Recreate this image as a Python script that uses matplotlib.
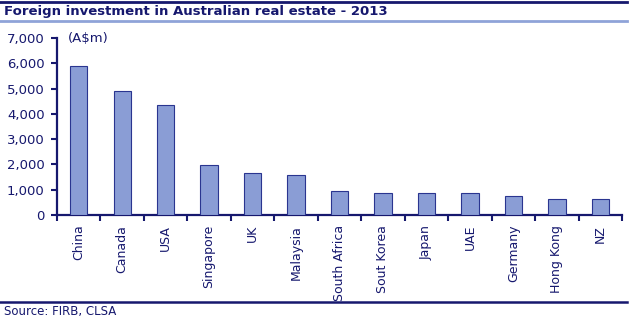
import matplotlib
matplotlib.use("Agg")
import matplotlib.pyplot as plt
from matplotlib.lines import Line2D

countries = ["China", "Canada", "USA", "Singapore", "UK", "Malaysia", "South Africa",
             "Sout Korea", "Japan", "UAE", "Germany", "Hong Kong", "NZ"]
values = [5900, 4900, 4350, 1980, 1660, 1580, 950, 880, 880, 880, 750, 620, 620]
yticks = [0, 1000, 2000, 3000, 4000, 5000, 6000, 7000]
ytick_labels = ["0", "1,000", "2,000", "3,000", "4,000", "5,000", "6,000", "7,000"]

navy = "#16186e"
bar_fill = "#8a9dd5"
bar_edge = "#2a3590"

W, H = 630, 322
fig = plt.figure(figsize=(W / 100, H / 100), dpi=100)
ax = fig.add_axes([57 / W, 1 - 215 / H, (622 - 57) / W, (215 - 38) / H])

x = list(range(len(countries)))
ax.bar(x, values, width=0.4, color=bar_fill, edgecolor=bar_edge, linewidth=0.8, zorder=3)

ax.set_xlim(-0.5, len(countries) - 0.5)
ax.set_ylim(0, 7000)
ax.set_yticks(yticks)
ax.set_yticklabels(ytick_labels, fontsize=9.5, color=navy)
ax.set_xticks(x)
ax.set_xticklabels(countries, rotation=90, fontsize=9, color=navy, va="top", ha="center")
ax.tick_params(axis="x", length=0, pad=7)
ax.set_xticks([i - 0.5 for i in range(len(countries) + 1)], minor=True)
ax.tick_params(axis="x", which="minor", length=4, width=1.5, color=navy, direction="out")
ax.tick_params(axis="y", length=4, width=1.5, color=navy, direction="out", pad=5)

for s in ["top", "right"]:
    ax.spines[s].set_visible(False)
for s in ["left", "bottom"]:
    ax.spines[s].set_color(navy)
    ax.spines[s].set_linewidth(1.6)

ax.text(0.019, 7000, "(A$m)", transform=ax.get_yaxis_transform(), fontsize=9.5,
        color=navy, va="center", ha="left")

# Header / footer lines and text
fig.add_artist(Line2D([0, 627 / W], [1 - 2 / H, 1 - 2 / H], color=navy, linewidth=2,
                      transform=fig.transFigure))
fig.add_artist(Line2D([0, 627 / W], [1 - 21 / H, 1 - 21 / H], color="#8fa3d8", linewidth=2,
                      transform=fig.transFigure))
fig.add_artist(Line2D([0, 627 / W], [1 - 302 / H, 1 - 302 / H], color=navy, linewidth=1.8,
                      transform=fig.transFigure))
fig.text(4 / W, 1 - 12 / H, "Foreign investment in Australian real estate - 2013",
         fontsize=9.5, fontweight="bold", color=navy, va="center", ha="left")
fig.text(4 / W, 1 - 312 / H, "Source: FIRB, CLSA", fontsize=8.5, color=navy,
         va="center", ha="left")

fig.savefig("out.png", dpi=100)
